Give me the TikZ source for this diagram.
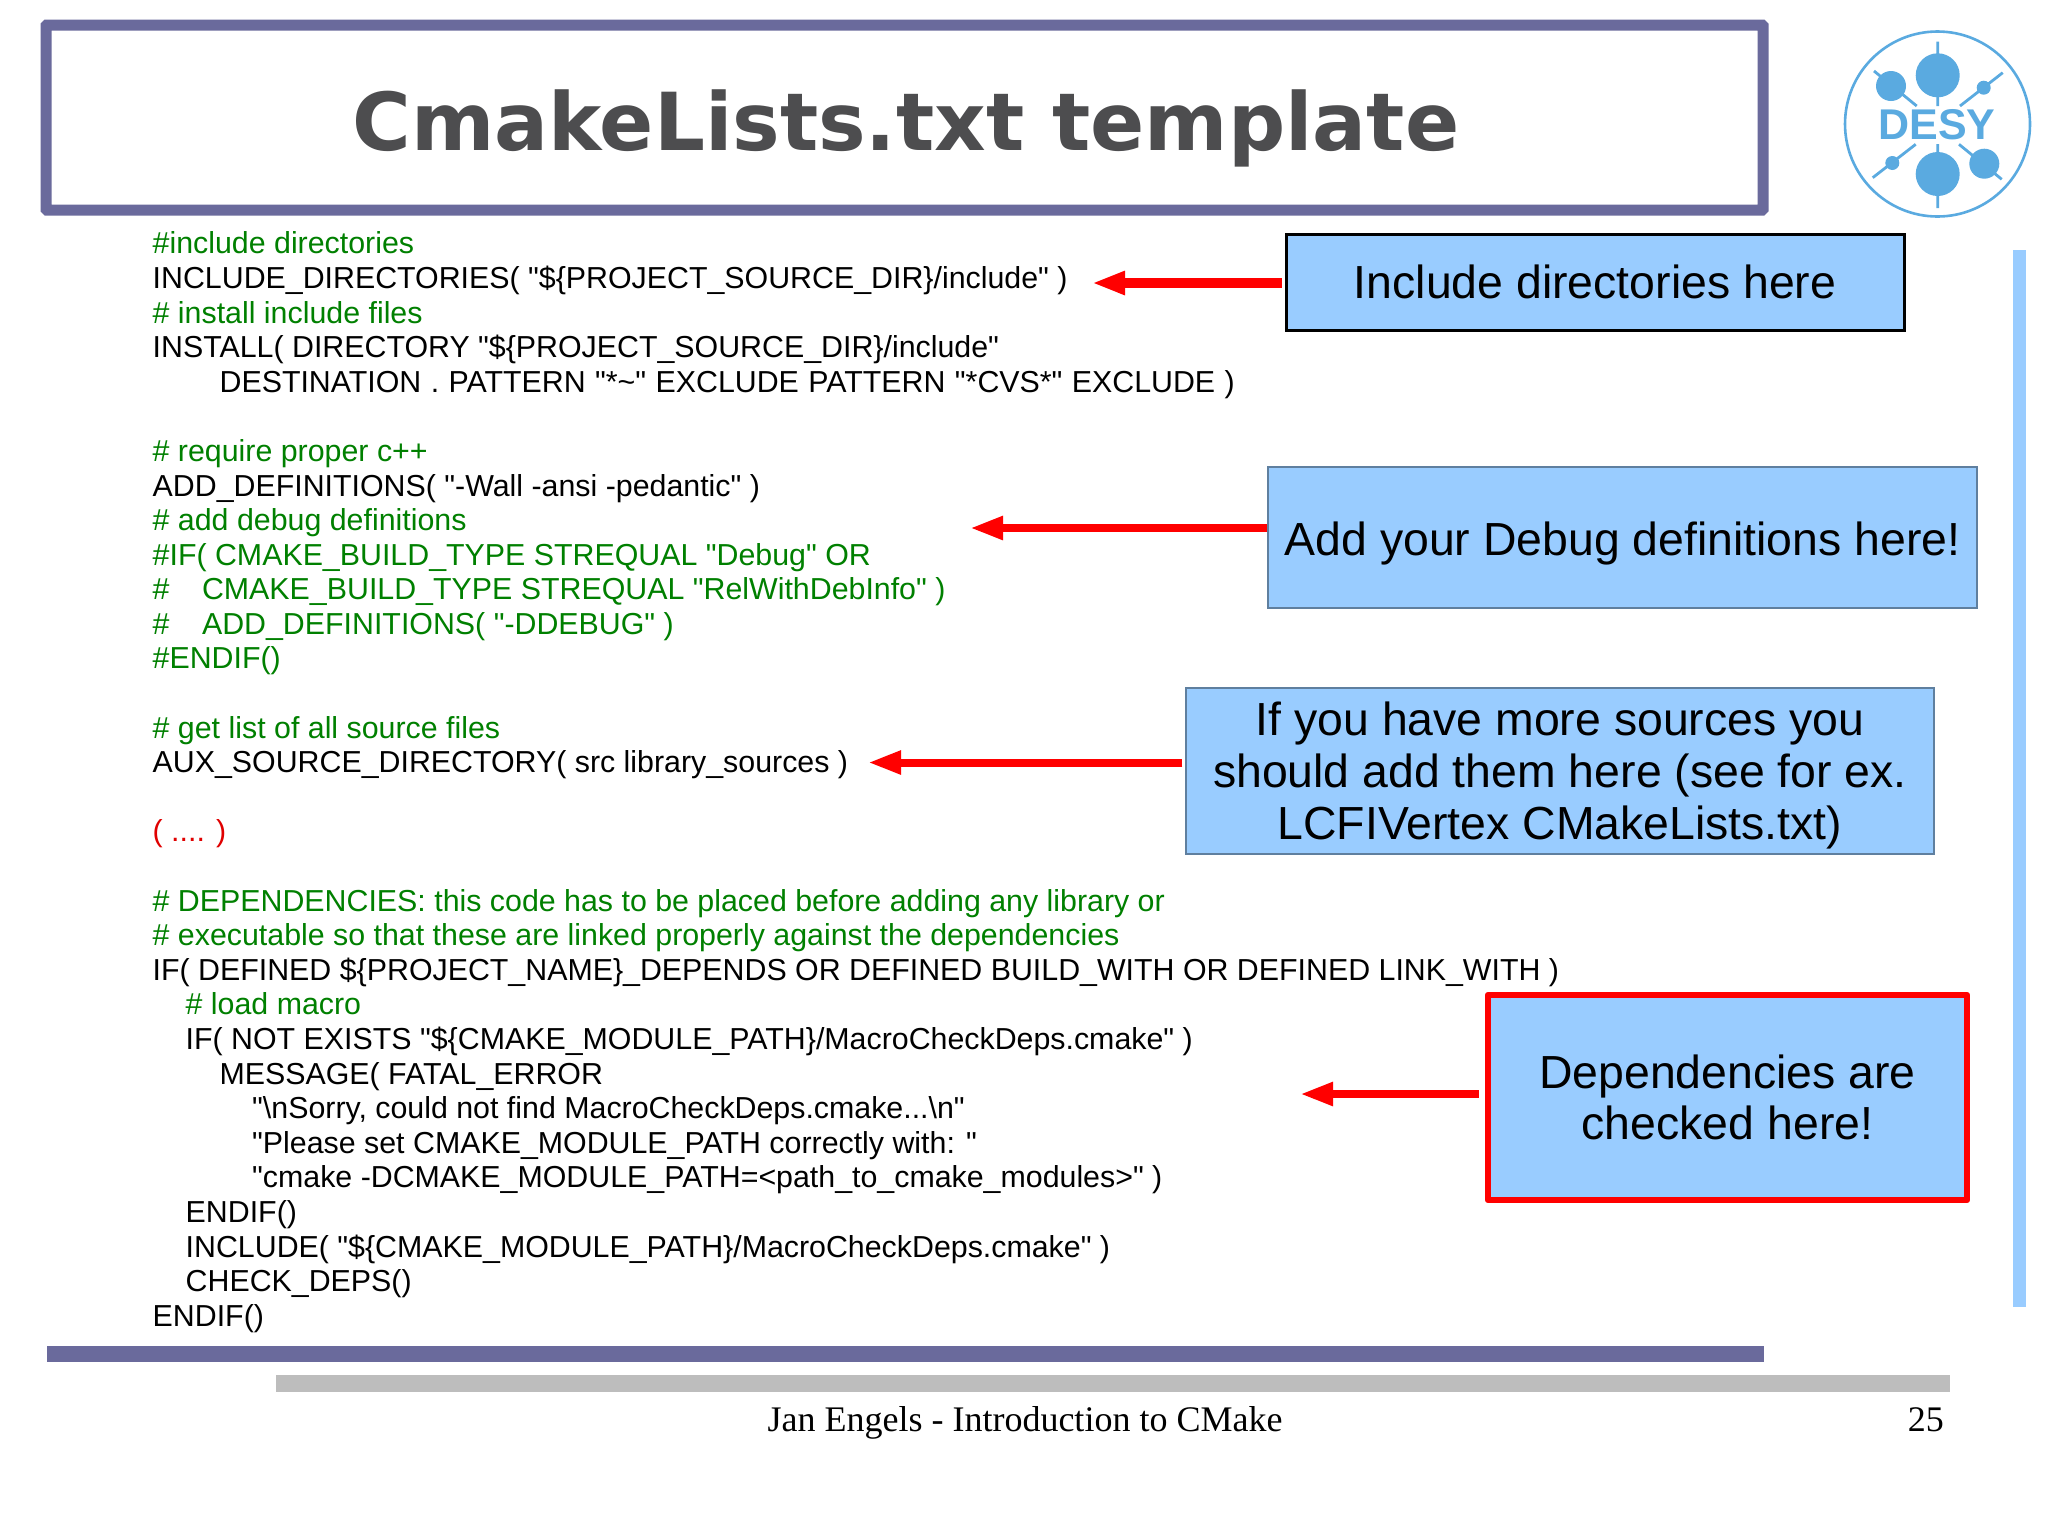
\documentclass[tikz,border=0pt]{standalone}
\usepackage{fontspec}
\setmainfont{Liberation Sans}
\newfontfamily\codefont{Liberation Sans}
\newfontfamily\titlefont{DejaVu Sans}
\newfontfamily\footfont{Liberation Serif}
\usetikzlibrary{arrows.meta}
\definecolor{barpurple}{HTML}{6A6A9C}
\definecolor{titlegray}{HTML}{4D4D4F}
\definecolor{boxblue}{HTML}{99CCFF}
\definecolor{barblue}{HTML}{99CCFF}
\definecolor{bargray}{HTML}{BDBDBD}
\definecolor{logoblue}{HTML}{5AAAE0}
\definecolor{codegreen}{HTML}{008000}
\definecolor{codered}{HTML}{E00000}
\definecolor{thinborder}{HTML}{5F7F9F}
\tikzset{
  codetext/.style={anchor=base west,inner sep=0,font=\fontsize{30.35}{34.6}\selectfont\codefont},
  callout/.style={fill=boxblue,draw=thinborder,line width=1.2pt,inner sep=0,align=center,font=\fontsize{46.4}{51.6}\selectfont\codefont},
  callouttext/.style={inner sep=0,align=center,font=\fontsize{46.4}{51.6}\selectfont\codefont},
  redarrow/.style={draw=red,line width=#1,-{Triangle[length=33pt,width=22pt]}},
  logoline/.style={draw=logoblue,line width=2.8pt},
}
\newcommand{\codeln}[5]{%
  \pgfmathsetmacro{\liney}{253.9+34.59*#2}
  \node[codetext,text=#4] (#1) at (#3,\liney) {#5};}
\begin{document}
\begin{tikzpicture}[x=1pt,y=-1pt]
\useasboundingbox (0,0) rectangle (2048,1535);
\fill[white] (0,0) rectangle (2048,1535);
% title
\node[draw=barpurple,line width=11pt,rounded corners=1pt,fill=white,minimum width=1717pt,minimum height=185pt,inner sep=0] (titlebox) at (904.5,117.5) {};
\node[text=titlegray,inner sep=0,anchor=base,font=\fontsize{80}{100}\selectfont\titlefont\bfseries] (title) at (906,150) {CmakeLists.txt template};
% logo
\draw[logoblue,line width=2.6pt] (1937.5,124) circle (92.5);
\fill[logoblue] (1937.7,75.3) circle (22) (1937.7,174) circle (22) (1891,86) circle (15) (1984.3,163.7) circle (15) (1983.7,87.7) circle (7) (1892.3,163) circle (7);
\draw[logoline] (1937.7,41.7)--(1937.7,106) (1937.7,144)--(1937.7,208) (1874,71)--(1916.7,106) (2002.7,72.7)--(1960,106) (1872.7,177.7)--(1915.7,144.3) (2001.7,179.3)--(1959,144.3);
\node[text=logoblue,inner sep=0,font=\fontsize{43}{43}\selectfont\codefont\bfseries] (desy) at (1937,125) {DESY};
% bars
\fill[barblue] (2013,250) rectangle (2026,1307);
\fill[barpurple] (47,1346) rectangle (1764,1362);
\fill[bargray] (276,1375) rectangle (1950,1392);
% code
\codeln{c0}{0}{152.5}{codegreen}{\#include directories}
\codeln{c1}{1}{152.5}{black}{INCLUDE\_DIRECTORIES( "\$\{PROJECT\_SOURCE\_DIR\}/include" )}
\codeln{c2}{2}{152.5}{codegreen}{\# install include files}
\codeln{c3}{3}{152.5}{black}{INSTALL( DIRECTORY "\$\{PROJECT\_SOURCE\_DIR\}/include"}
\codeln{c4}{4}{219.4}{black}{\spaceskip=9.4pt DESTINATION . PATTERN "*\textasciitilde" EXCLUDE PATTERN "*CVS*" EXCLUDE )}
\codeln{c6}{6}{152.5}{codegreen}{\# require proper c++}
\codeln{c7}{7}{152.5}{black}{ADD\_DEFINITIONS( "-Wall -ansi -pedantic" )}
\codeln{c8}{8}{152.5}{codegreen}{\# add debug definitions}
\codeln{c9}{9}{152.5}{codegreen}{\#IF( CMAKE\_BUILD\_TYPE STREQUAL "Debug" OR}
\codeln{c10}{10}{152.5}{codegreen}{\#\hspace{32.5pt}CMAKE\_BUILD\_TYPE STREQUAL "RelWithDebInfo" )}
\codeln{c11}{11}{152.5}{codegreen}{\#\hspace{32.5pt}ADD\_DEFINITIONS( "-DDEBUG" )}
\codeln{c12}{12}{152.5}{codegreen}{\#ENDIF()}
\codeln{c14}{14}{152.5}{codegreen}{\# get list of all source files}
\codeln{c15}{15}{152.5}{black}{AUX\_SOURCE\_DIRECTORY( src library\_sources )}
\codeln{c17}{17}{152.5}{codered}{( .... )}
\codeln{c19}{19}{152.5}{codegreen}{\# DEPENDENCIES: this code has to be placed before adding any library or}
\codeln{c20}{20}{152.5}{codegreen}{\# executable so that these are linked properly against the dependencies}
\codeln{c21}{21}{152.5}{black}{IF( DEFINED \$\{PROJECT\_NAME\}\_DEPENDS OR DEFINED BUILD\_WITH OR DEFINED LINK\_WITH )}
\codeln{c22}{22}{185.5}{codegreen}{\# load macro}
\codeln{c23}{23}{185.5}{black}{IF( NOT EXISTS "\$\{CMAKE\_MODULE\_PATH\}/MacroCheckDeps.cmake" )}
\codeln{c24}{24}{219.4}{black}{MESSAGE( FATAL\_ERROR}
\codeln{c25}{25}{252}{black}{"\textbackslash nSorry, could not find MacroCheckDeps.cmake...\textbackslash n"}
\codeln{c26}{26}{252}{black}{"Please set CMAKE\_MODULE\_PATH correctly with: "}
\codeln{c27}{27}{252}{black}{"cmake -DCMAKE\_MODULE\_PATH=<path\_to\_cmake\_modules>" )}
\codeln{c28}{28}{185.5}{black}{ENDIF()}
\codeln{c29}{29}{185.5}{black}{INCLUDE( "\$\{CMAKE\_MODULE\_PATH\}/MacroCheckDeps.cmake" )}
\codeln{c30}{30}{185.5}{black}{CHECK\_DEPS()}
\codeln{c31}{31}{152.5}{black}{ENDIF()}
% callouts
\node[callout,draw=black,line width=3pt,minimum width=618pt,minimum height=96pt] (b1) at (1595,282) {Include directories here};
\node[callout,minimum width=709pt,minimum height=141pt] (b2) at (1622.5,537.5) {};
\node[callouttext,yshift=-5.5pt] (b2text) at (b2.center) {Add your Debug definitions here!};
\node[callout,minimum width=748pt,minimum height=166pt] (b3) at (1560,771) {};
\node[callouttext,yshift=-4.5pt] (b3text) at (b3.center) {If you have more sources you\\should add them here (see for ex.\\LCFIVertex CMakeLists.txt)};
\node[callout,draw=red,line width=6.5pt,line join=round,minimum width=479pt,minimum height=205pt] (b4) at (1727.5,1097.5) {Dependencies are\\checked here!};
% arrow targets
\coordinate (t1) at (1092,283);
\coordinate (t2) at (970,528);
\coordinate (t3) at (868,762.5);
\coordinate (t4) at (1300,1094);
\draw[redarrow=10pt] (b1.west |- t1) ++(-3,0) -- (t1);
\draw[redarrow=8pt] (b2.west |- t2) -- (t2);
\draw[redarrow=8pt] (b3.west |- t3) ++(-3,0) -- (t3);
\draw[redarrow=8pt] (b4.west |- t4) ++(-6,0) -- (t4);
% footer
\node[anchor=base,inner sep=0,font=\fontsize{36}{40}\selectfont\footfont] (foot) at (1025,1431) {Jan Engels - Introduction to CMake};
\node[anchor=base east,inner sep=0,font=\fontsize{36}{40}\selectfont\footfont] (page) at (1944,1431) {25};
\end{tikzpicture}
\end{document}
